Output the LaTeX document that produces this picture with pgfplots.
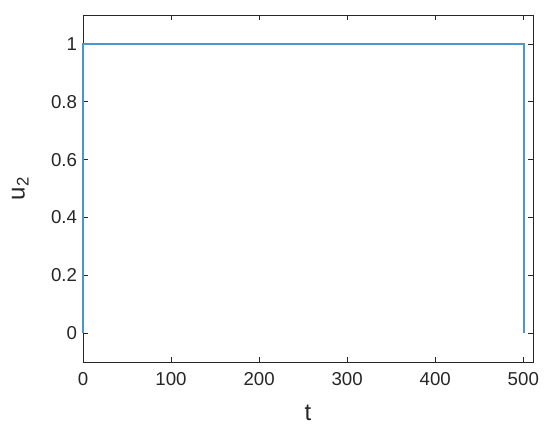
\documentclass[border=0pt]{standalone}
\usepackage{fontspec}
\setmainfont{Liberation Sans}
\usepackage{pgfplots}
\pgfplotsset{compat=1.18}
\definecolor{lineblue}{HTML}{4A97CE}
\definecolor{axgray}{HTML}{262626}
\begin{document}
\begin{tikzpicture}
\useasboundingbox (-62.25pt,-57pt) rectangle (350.25pt,271.5pt);
\begin{axis}[
  at={(0,0)},anchor=south west,
  scale only axis,width=337.5pt,height=260.25pt,
  xmin=0,xmax=511,ymin=-0.1,ymax=1.1,
  xtick={0,100,...,500},ytick={0,0.2,...,1},
  yticklabels={0,0.2,0.4,0.6,0.8,1},
  tick align=inside,major tick length=4pt,
  axis line style={axgray,line width=0.6pt},
  every tick/.style={axgray,line width=0.5pt},
  tick label style={font=\fontsize{14}{16}\selectfont,text=axgray},
  xticklabel style={yshift=-4pt},
  yticklabel style={xshift=-1pt},
  /pgf/number format/assume math mode=true,
  label style={font=\fontsize{18}{20}\selectfont,text=axgray},
  xlabel={t},ylabel={u\textsubscript{2}},
  xlabel style={yshift=-8pt},
  ylabel style={yshift=10pt},
  clip=false,
]
\addplot[lineblue,line width=1.1pt] coordinates {(0,0) (0,1) (501,1) (501,0)};
\end{axis}
\end{tikzpicture}
\end{document}
